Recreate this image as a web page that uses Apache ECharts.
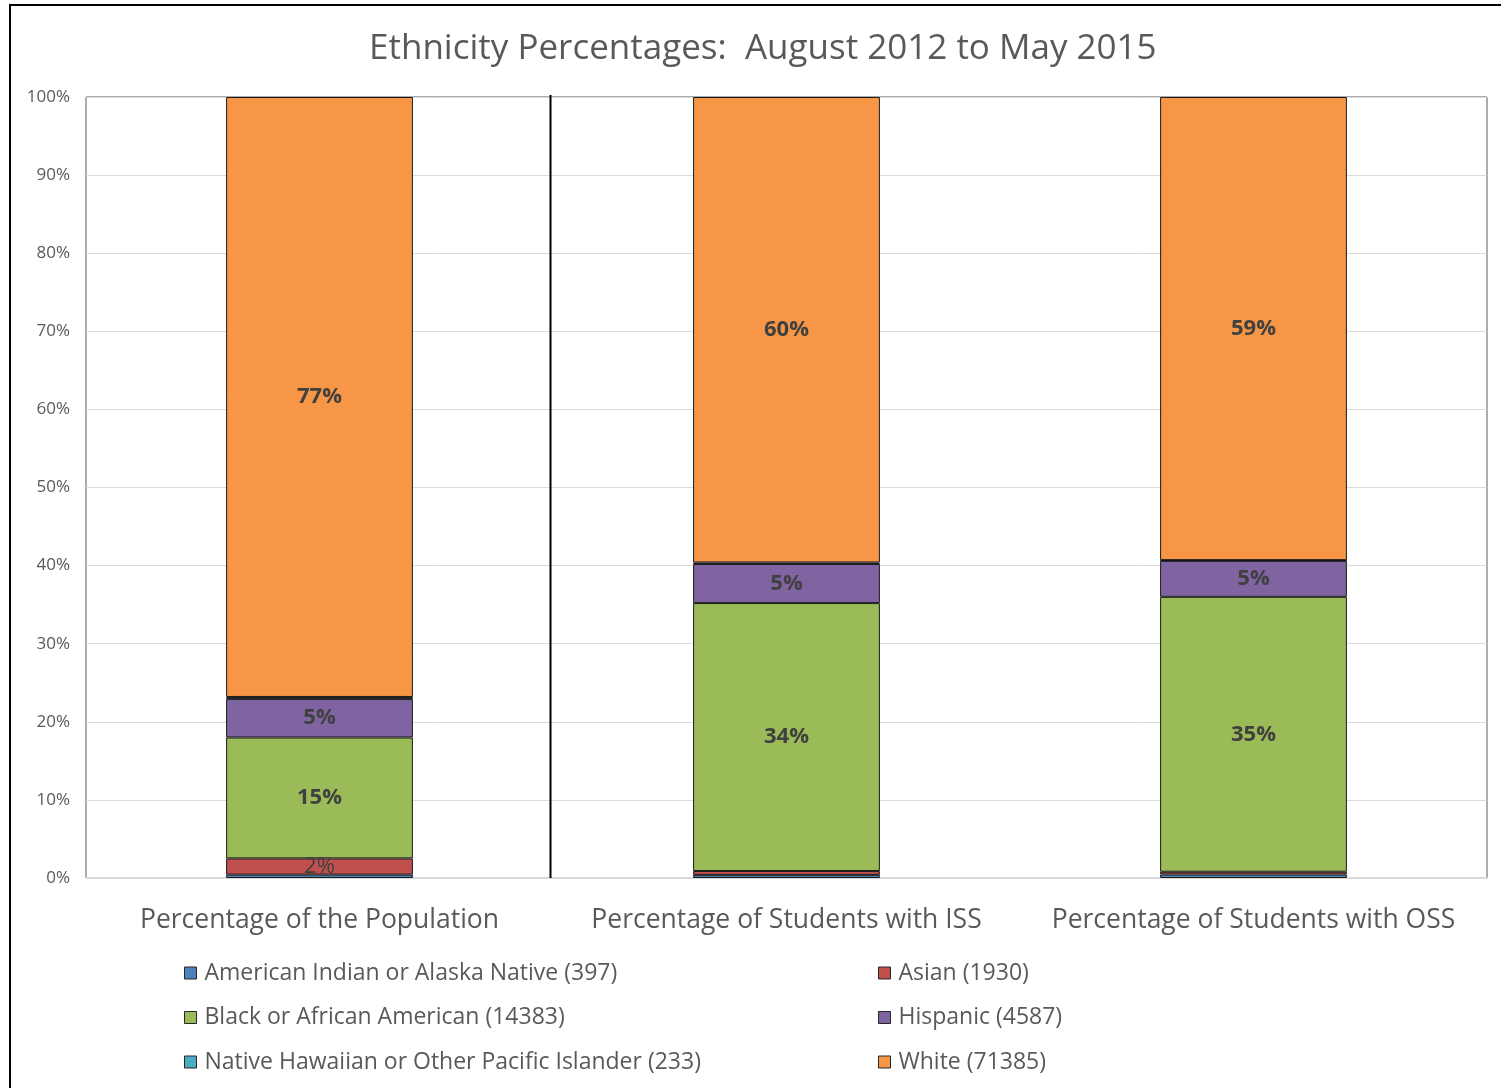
<!DOCTYPE html>
<html>
<head>
<meta charset="utf-8">
<script src="https://cdn.jsdelivr.net/npm/echarts@6/dist/echarts.min.js"></script>
<style>
  html, body { margin: 0; padding: 0; background: #fff; }
  #chart { width: 1501px; height: 1088px; }
</style>
</head>
<body>
<div id="chart"></div>
<script>
// Ethnicity shares (percent of each group), stacked bottom to top
const categories = [
  'Percentage of the Population',
  'Percentage of Students with ISS',
  'Percentage of Students with OSS'
];
const seriesNames = [
  'American Indian or Alaska Native (397)',
  'Asian (1930)',
  'Black or African American (14383)',
  'Hispanic (4587)',
  'Native Hawaiian or Other Pacific Islander (233)',
  'White (71385)'
];
const americanIndian = [0.43, 0.40, 0.45];
const asian = [2.08, 0.50, 0.35];
const black = [15.48, 34.30, 35.20];
const hispanic = [4.94, 5.00, 4.60];
const nativeHawaiian = [0.25, 0.20, 0.10];
const white = [76.82, 59.60, 59.30];
const yTicks = [0, 10, 20, 30, 40, 50, 60, 70, 80, 90, 100];

const seriesValues = [americanIndian, asian, black, hispanic, nativeHawaiian, white];
const seriesColors = ['#4F81BD', '#C0504D', '#9BBB59', '#8064A2', '#4BACC6', '#F79646'];

const FONT = '"Open Sans", "Noto Sans", sans-serif';
const TEXT = '#595959';

const chart = echarts.init(document.getElementById('chart'), null, { renderer: 'canvas' });

const series = seriesValues.map((vals, i) => ({
  name: seriesNames[i],
  type: 'bar',
  stack: 'total',
  barCategoryGap: '60%',
  data: vals,
  itemStyle: { color: seriesColors[i], borderColor: '#1a1a1a', borderWidth: 1 },
  label: {
    show: true,
    position: 'inside',
    fontFamily: FONT,
    fontSize: 22,
    fontWeight: i === 1 ? 'normal' : 'bold',
    color: '#404040',
    formatter: p => (p.value >= 1 ? Math.round(p.value) + '%' : '')
  },
  emphasis: { disabled: true }
}));

const legendCommon = {
  orient: 'vertical',
  icon: 'rect',
  itemWidth: 12,
  itemHeight: 12,
  itemGap: 20.5,
  selectedMode: false,
  textStyle: { fontFamily: FONT, fontSize: 23, color: TEXT, lineHeight: 24, padding: [0, 0, 0, 3] },
  itemStyle: { borderColor: '#262626', borderWidth: 1 }
};

chart.setOption({
  animation: false,
  backgroundColor: '#fff',
  title: {
    text: 'Ethnicity Percentages:  August 2012 to May 2015',
    left: 369,
    top: 32,
    padding: 0,
    textStyle: { fontFamily: FONT, fontSize: 35, fontWeight: 'normal', color: TEXT }
  },
  legend: [
    Object.assign({}, legendCommon, {
      left: 179, top: 956,
      data: [seriesNames[0], seriesNames[2], seriesNames[4]]
    }),
    Object.assign({}, legendCommon, {
      left: 873, top: 956,
      data: [seriesNames[1], seriesNames[3], seriesNames[5]]
    })
  ],
  grid: {
    left: 86, right: 14, top: 97, bottom: 210,
    show: true, borderColor: '#595959', borderWidth: 1, backgroundColor: 'transparent'
  },
  xAxis: {
    type: 'category',
    data: categories,
    axisTick: { show: false },
    axisLine: { show: true, lineStyle: { color: '#d9d9d9', width: 2 } },
    axisLabel: { fontFamily: FONT, fontSize: 26.5, color: TEXT, margin: 29, interval: 0 }
  },
  yAxis: {
    type: 'value',
    min: yTicks[0],
    max: yTicks[yTicks.length - 1],
    interval: yTicks[1] - yTicks[0],
    axisLine: { show: false },
    axisTick: { show: false },
    splitLine: { lineStyle: { color: '#d9d9d9', width: 1 } },
    axisLabel: { fontFamily: FONT, fontSize: 17, color: TEXT, margin: 16, formatter: '{value}%' }
  },
  graphic: [
    // outer frame of the chart (top and left edges visible)
    {
      type: 'rect', silent: true, z: 100,
      shape: { x: 10, y: 5, width: 1700, height: 1300 },
      style: { fill: 'none', stroke: '#000', lineWidth: 2 }
    },
    // divider between the population bar and the student bars
    {
      type: 'line', silent: true, z: 100,
      shape: { x1: 550.5, y1: 95, x2: 550.5, y2: 878 },
      style: { stroke: '#000', lineWidth: 2 }
    }
  ],
  series: series
});
</script>
</body>
</html>
